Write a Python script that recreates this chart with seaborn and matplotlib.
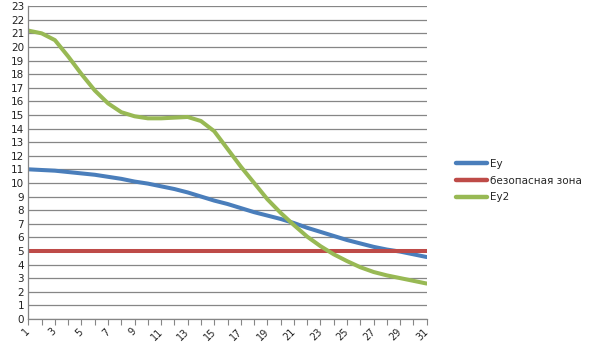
import numpy as np
import pandas as pd
import matplotlib
matplotlib.use("Agg")
import matplotlib.pyplot as plt
import seaborn as sns

x_vals = list(range(1, 32))
ey = [11.0, 10.95, 10.9, 10.8, 10.7, 10.6, 10.45, 10.3, 10.1, 9.95, 9.75, 9.55,
      9.3, 9.0, 8.7, 8.45, 8.15, 7.85, 7.6, 7.35, 7.05, 6.7, 6.4, 6.1, 5.8,
      5.55, 5.3, 5.1, 4.95, 4.75, 4.55]
safe = [5.0] * 31
ey2 = [21.2, 21.0, 20.5, 19.3, 18.0, 16.8, 15.85, 15.2, 14.9, 14.75, 14.75, 14.8,
       14.85, 14.55, 13.8, 12.5, 11.2, 10.0, 8.8, 7.8, 6.9, 6.05, 5.35, 4.75,
       4.25, 3.8, 3.45, 3.2, 3.0, 2.8, 2.6]
series_names = ["Ey", "безопасная зона", "Ey2"]
colors = ["#4A7EBB", "#BE4B48", "#98B954"]
y_ticks = list(range(0, 24))
x_tick_labels = [str(v) for v in range(1, 32, 2)]

df = pd.DataFrame({
    "x": x_vals * 3,
    "y": ey + safe + ey2,
    "series": [series_names[0]] * 31 + [series_names[1]] * 31 + [series_names[2]] * 31,
})

sns.set_style("white")
plt.rcParams["font.family"] = ["DejaVu Sans"]

fig = plt.figure(figsize=(5.91, 3.61), dpi=100)
ax = fig.add_axes([0.048, 0.1166, 0.674, 0.8664])

sns.lineplot(data=df, x="x", y="y", hue="series", palette=colors,
             hue_order=series_names, linewidth=2.9, ax=ax, legend=False)

ax.set_xlim(1, 31)
ax.set_ylim(0, 23)
ax.set_yticks(y_ticks)
ax.set_yticklabels([str(v) for v in y_ticks], fontsize=7.5, color="#222222")
ax.set_xticks(range(1, 32, 2))
ax.set_xticks(x_vals, minor=True)
ax.set_xticklabels(x_tick_labels, fontsize=7, rotation=45, ha="right",
                   rotation_mode="anchor", va="center", color="#222222")
ax.tick_params(axis="x", which="both", direction="out", length=4, width=0.8,
               color="#868686", bottom=True, pad=4)
ax.tick_params(axis="y", length=0, pad=3)
ax.yaxis.grid(True, color="#868686", linewidth=0.9)
ax.xaxis.grid(False)
ax.set_axisbelow(True)
for s in ["top", "right"]:
    ax.spines[s].set_visible(False)
for s in ["left", "bottom"]:
    ax.spines[s].set_color("#868686")
    ax.spines[s].set_linewidth(0.9)
ax.set_xlabel("")
ax.set_ylabel("")

from matplotlib.lines import Line2D
handles = [Line2D([0], [0], color=c, linewidth=3.2) for c in colors]
fig.legend(handles, series_names, loc="center left",
           bbox_to_anchor=(0.755, 0.5), frameon=False, fontsize=7.5,
           handlelength=3.0, handletextpad=0.3, labelspacing=0.65)

fig.savefig("out.png", dpi=100)
